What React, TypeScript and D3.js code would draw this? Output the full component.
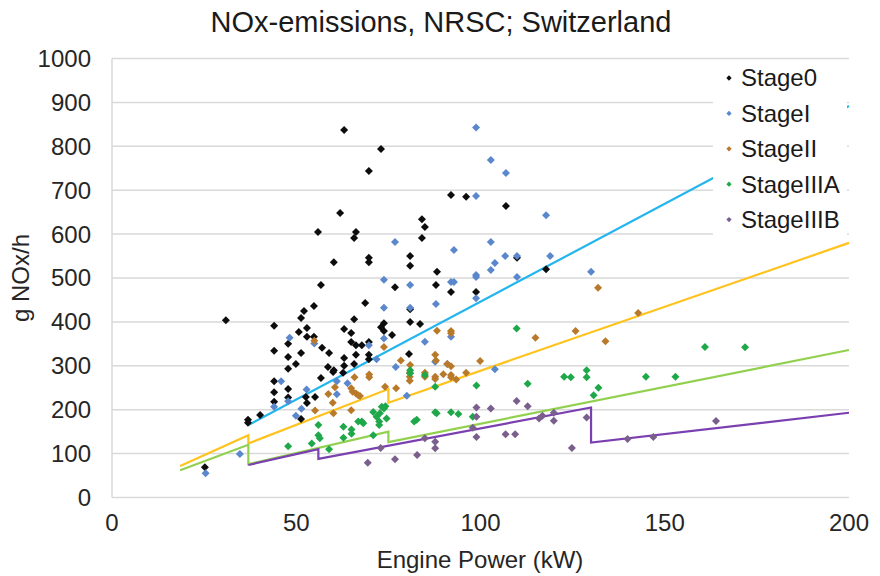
import React from "react";
import * as d3 from "d3";

const title = "NOx-emissions, NRSC; Switzerland";
const xTicks = [0, 50, 100, 150, 200];
const yTicks = [0, 100, 200, 300, 400, 500, 600, 700, 800, 900, 1000];
const seriesNames = ["Stage0", "StageI", "StageII", "StageIIIA", "StageIIIB"];

const stage0: [number, number][] = [
  [63.0, 837], [73.0, 794], [69.7, 744], [92.0, 689], [96.1, 685], [106.9, 664], [61.9, 648], [84.1, 634],
  [84.9, 616], [55.9, 605], [66.2, 605], [65.7, 591], [84.1, 591], [80.9, 550], [69.7, 546], [109.9, 546],
  [60.2, 536], [69.7, 536], [80.9, 528], [117.8, 520], [88.2, 514], [56.7, 484], [87.9, 484], [76.8, 479],
  [92.0, 468], [98.8, 468], [68.7, 443], [54.8, 436], [52.1, 425], [80.9, 429], [51.3, 409], [65.7, 406],
  [30.9, 404], [83.6, 395], [80.9, 400], [73.8, 397], [44.0, 391], [52.9, 386], [63.0, 384], [73.0, 388],
  [50.7, 377], [73.8, 379], [64.9, 375], [76.0, 370], [52.9, 366], [54.8, 366], [47.8, 350], [64.9, 354],
  [69.7, 354], [57.0, 341], [67.8, 347], [66.2, 347], [44.0, 334], [51.3, 329], [58.9, 329], [66.2, 325],
  [69.7, 325], [80.6, 327], [47.8, 320], [63.0, 318], [69.7, 315], [49.9, 304], [65.7, 304], [63.0, 300],
  [58.6, 297], [47.8, 293], [60.2, 290], [60.0, 286], [62.7, 284], [56.7, 272], [44.0, 265], [47.8, 247],
  [44.0, 240], [47.8, 228], [52.6, 229], [55.1, 229], [44.0, 218], [52.9, 215], [40.2, 188], [51.3, 179],
  [36.9, 177], [36.9, 170], [25.2, 69],
];

const stageI: [number, number][] = [
  [98.8, 843], [102.8, 769], [106.9, 739], [98.8, 687], [117.8, 643], [76.8, 582], [102.8, 582], [92.8, 564],
  [109.9, 550], [106.7, 550], [118.9, 550], [103.9, 534], [102.8, 518], [130.0, 514], [98.8, 507], [98.8, 502],
  [109.9, 502], [73.8, 496], [92.0, 491], [92.8, 491], [80.9, 484], [98.8, 454], [87.9, 441], [73.8, 432],
  [80.9, 432], [92.0, 366], [84.9, 355], [87.7, 309], [91.0, 304], [103.9, 292], [69.7, 347], [77.0, 297],
  [80.0, 232], [71.8, 315], [63.9, 260], [61.0, 265], [61.0, 235], [73.8, 362], [48.2, 364], [54.9, 351],
  [45.9, 265], [52.8, 246], [47.8, 219], [44.0, 207], [51.4, 202], [49.9, 186], [34.7, 99], [25.4, 55],
];

const stageII: [number, number][] = [
  [131.9, 478], [142.8, 420], [125.8, 379], [114.9, 364], [133.9, 356], [99.9, 311], [88.2, 380], [92.0, 379],
  [92.0, 374], [87.7, 325], [84.9, 284], [84.9, 275], [87.7, 275], [87.7, 270], [89.9, 281], [92.0, 279],
  [92.0, 274], [93.4, 269], [96.1, 284], [73.8, 343], [78.4, 312], [87.9, 312], [91.0, 304], [92.0, 299],
  [80.8, 284], [80.8, 275], [80.8, 266], [69.8, 280], [69.8, 274], [65.8, 274], [80.9, 302], [54.9, 357],
  [60.5, 251], [64.9, 249], [65.3, 241], [66.2, 237], [66.8, 233], [67.3, 231], [59.9, 216], [64.9, 199],
  [74.1, 252], [77.1, 249], [58.7, 236], [60.1, 192], [55.1, 198],
];

const stageIIIA: [number, number][] = [
  [109.8, 385], [160.9, 343], [171.8, 342], [128.8, 290], [128.8, 274], [122.7, 275], [124.5, 274], [144.9, 275],
  [152.9, 275], [112.8, 259], [132.0, 250], [130.7, 233], [87.7, 252], [98.9, 255], [87.7, 194], [92.0, 194],
  [94.0, 190], [97.9, 184], [80.9, 290], [80.9, 283], [84.9, 279], [70.9, 195], [73.2, 207], [73.8, 203],
  [74.2, 208], [72.7, 192], [71.8, 184], [72.5, 173], [72.5, 165], [74.5, 180], [70.9, 142], [66.8, 173],
  [67.8, 173], [68.2, 169], [62.8, 161], [62.8, 136], [65.0, 155], [65.0, 145], [56.0, 165], [56.0, 142],
  [56.4, 135], [54.2, 123], [47.8, 117], [58.9, 110], [82.0, 173], [82.7, 177], [88.1, 192],
];

const stageIIIB: [number, number][] = [
  [163.9, 174], [139.9, 133], [146.9, 138], [124.8, 113], [128.8, 182], [119.9, 193], [119.9, 175], [115.9, 180],
  [116.8, 186], [112.8, 208], [109.8, 220], [106.8, 144], [109.4, 144], [102.8, 203], [98.9, 205], [98.9, 184],
  [98.9, 138], [97.9, 159], [87.7, 127], [87.7, 112], [84.9, 135], [72.9, 113], [76.8, 87], [82.8, 97],
  [69.4, 79],
];

// Limit lines (vertices)
const limitI: [number, number][] = [[37, 165], [200, 892]];
const limitII: [number, number][] = [[18.5, 72], [37, 142], [37, 123], [75, 247], [75, 216], [200, 580]];
const limitIIIA: [number, number][] = [[18.5, 62], [37, 120], [37, 76], [75, 150], [75, 126], [200, 336]];
const limitIIIB: [number, number][] = [[37, 74], [56, 110], [56, 88], [130, 205], [130, 125], [200, 193]];

const markerColors = ["#0d0d0d", "#5b87cc", "#b87a2a", "#1fa84a", "#7a5f8c"];
const lineColors = ["#22b5ee", "#ffc31f", "#92d050", "#7a3fb0"];

const FONT = "'Liberation Sans', Arial, Helvetica, sans-serif";

export default function App() {
  const W = 880, H = 576;
  const x = d3.scaleLinear().domain([0, 200]).range([112, 849]);
  const y = d3.scaleLinear().domain([0, 1000]).range([497.5, 58.5]);
  const line = d3.line<[number, number]>().x((d) => x(d[0])).y((d) => y(d[1]));
  const diamond = d3.symbol().type(d3.symbolSquare).size(32)()!;
  const diamondSmall = d3.symbol().type(d3.symbolSquare).size(14)()!;
  const allSeries = [stage0, stageI, stageII, stageIIIA, stageIIIB];
  const limits = [limitI, limitII, limitIIIA, limitIIIB];

  return (
    <svg width={W} height={H} style={{ position: "absolute", left: 0, top: 0, background: "#fff" }} fontFamily={FONT}>
      <rect x={0} y={0} width={W} height={H} fill="#fff" />
      <text x={441} y={32} textAnchor="middle" fontSize={29} fill="#1a1a1a">{title}</text>
      {yTicks.map((t) => (
        <line key={t} x1={x(0)} x2={x(200)} y1={y(t)} y2={y(t)} stroke="#d9d9d9" strokeWidth={1.5} />
      ))}
      <line x1={x(0)} x2={x(0)} y1={y(0)} y2={y(1000)} stroke="#d9d9d9" strokeWidth={1.5} />
      {yTicks.map((t) => (
        <text key={t} x={91} y={y(t)} dy="0.35em" textAnchor="end" fontSize={24} fill="#262626">{t}</text>
      ))}
      {xTicks.map((t) => (
        <text key={t} x={x(t)} y={523} dy="0.35em" textAnchor="middle" fontSize={24} fill="#262626">{t}</text>
      ))}
      <text x={480} y={560} dy="0.35em" textAnchor="middle" fontSize={24} fill="#262626">Engine Power (kW)</text>
      <text transform={`translate(21,${278}) rotate(-90)`} dy="0.35em" textAnchor="middle" fontSize={24} fill="#262626">g NOx/h</text>
      {limits.map((l, i) => (
        <path key={i} d={line(l)!} fill="none" stroke={lineColors[i]} strokeWidth={2.2} />
      ))}
      {allSeries.map((s, i) => (
        <g key={i} fill={markerColors[i]}>
          {s.map((d, j) => (
            <path key={j} d={diamond} transform={`translate(${x(d[0])},${y(d[1])}) rotate(45)`} />
          ))}
        </g>
      ))}
      <rect x={713} y={61} width={134} height={180} fill="#fff" />
      {seriesNames.map((n, i) => (
        <g key={n} transform={`translate(0,${78 + i * 35.4})`}>
          <path d={diamondSmall} transform="translate(729,0) rotate(45)" fill={markerColors[i]} />
          <text x={741} y={0} dy="0.35em" fontSize={24} fill="#1a1a1a">{n}</text>
        </g>
      ))}
    </svg>
  );
}
